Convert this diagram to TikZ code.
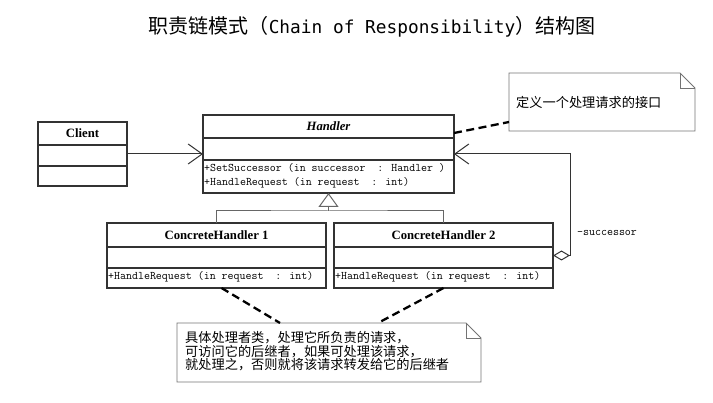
\documentclass[tikz,border=0pt]{standalone}
\usepackage{fontspec}
\setmainfont{Liberation Serif}
\newfontfamily\cjk{Noto Sans CJK SC}
\newfontfamily\titlemono{DejaVu Sans Mono}
\usetikzlibrary{arrows.meta}
\usetikzlibrary{calc}

\tikzset{
  classbox/.style={draw=black!80, line width=1.1pt, inner sep=0pt, outer sep=0pt},
  classline/.style={draw=black!80, line width=1.1pt},
  classname/.style={inner sep=0pt, font=\fontsize{12.7}{14}\selectfont\bfseries},
  method/.style={anchor=west, inner sep=1pt, font=\ttfamily\fontsize{11.6}{13}\selectfont},
  notebox/.style={inner sep=0pt, outer sep=0pt},
  noteline/.style={draw=black!55, line width=0.9pt},
  notetext/.style={anchor=west, inner sep=0pt, align=left, font=\cjk\fontsize{13.2}{12.2}\selectfont},
  notedash/.style={line width=2.3pt, dash pattern=on 8pt off 4.5pt},
  assoc/.style={draw=black!80, line width=1pt},
  genline/.style={draw=black!60, line width=1pt},
}

\begin{document}
\begin{tikzpicture}[x=1pt, y=-1pt]
        \useasboundingbox (0,0) rectangle (713,403);

        \node (title) at (372,27) {\cjk\fontsize{20}{22}\selectfont 职责链模式（{\titlemono\fontsize{17.8}{22}\selectfont Chain of Responsibility}）结构图};

        \node [classbox, minimum width=89pt, minimum height=64pt] (client) at (82.5,154) {};
        \node [classname] (clientname) at (82.5,133.5) {Client};
        \draw [classline] (client.west |- 0,145) -- (client.east |- 0,145);
        \draw [classline] (client.west |- 0,166) -- (client.east |- 0,166);

        \node [classbox, minimum width=251pt, minimum height=78pt] (handler) at (328.5,154) {};
        \node [classname] (handlername) at (328.5,126.5) {\itshape Handler};
        \draw [classline] (handler.west |- 0,138) -- (handler.east |- 0,138);
        \draw [classline] (handler.west |- 0,160) -- (handler.east |- 0,160);
        \node [method] (setsucc) at (203,168) {+SetSuccessor (in successor\ \ : Handler )};
        \node [method] (handlereq) at (203,183) {+HandleRequest (in request\ \ : int)};

        \node [classbox, minimum width=219pt, minimum height=65pt] (ch1) at (216.5,255.5) {};
        \node [classname] (ch1name) at (216.5,235) {ConcreteHandler 1};
        \draw [classline] (ch1.west |- 0,247) -- (ch1.east |- 0,247);
        \draw [classline] (ch1.west |- 0,268) -- (ch1.east |- 0,268);
        \node [method] (ch1req) at (107,277) {+HandleRequest (in request\ \ : int)};

        \node [classbox, minimum width=219pt, minimum height=65pt] (ch2) at (443.5,255.5) {};
        \node [classname] (ch2name) at (443.5,235) {ConcreteHandler 2};
        \draw [classline] (ch2.west |- 0,247) -- (ch2.east |- 0,247);
        \draw [classline] (ch2.west |- 0,268) -- (ch2.east |- 0,268);
        \node [method] (ch2req) at (334,277) {+HandleRequest (in request\ \ : int)};

        \node [notebox, minimum width=186pt, minimum height=58pt] (note1) at (602,102) {};
        \draw [noteline] (note1.north west) -- ([xshift=-15pt]note1.north east) -- ([yshift=-15pt]note1.north east) -- (note1.south east) -- (note1.south west) -- cycle;
        \draw [noteline] ([xshift=-15pt]note1.north east) |- ([yshift=-15pt]note1.north east);
        \node [notetext] (note1text) at (516,102.7) {定义一个处理请求的接口};

        \node [notebox, minimum width=304pt, minimum height=59pt] (note2) at (329,352.5) {};
        \draw [noteline] (note2.north west) -- ([xshift=-15pt]note2.north east) -- ([yshift=-15pt]note2.north east) -- (note2.south east) -- (note2.south west) -- cycle;
        \draw [noteline] ([xshift=-15pt]note2.north east) |- ([yshift=-15pt]note2.north east);
        \node [notetext] (note2text) at (185,351.3) {具体处理者类，处理它所负责的请求，\\可访问它的后继者，如果可处理该请求，\\就处理之，否则就将该请求转发给它的后继者};

        \draw [assoc, -{Straight Barb[length=14pt, width=20pt]}] (client.east) -- (handler.west);

        \coordinate (fork) at (handler.south |- 0,211);
        \draw [genline] (ch1.north) |- (fork) -| (ch2.north);
        \draw [genline, -{Triangle[open, length=14pt, width=20pt]}] (fork) -- (handler.south);

        \draw [assoc, {Diamond[open, length=17pt, width=10pt]}-{Straight Barb[length=14pt, width=20pt]}] (ch2.east) -- ++(17,0) |- (handler.east);
        \node [method] (succ) at (576,232.7) {-successor};

        \draw [notedash] ([yshift=-18pt]handler.north east) -- ([yshift=9pt]note1.south west);
        \draw [notedash] ([xshift=5pt]ch1.south) -- ([xshift=103pt]note2.north west);
        \draw [notedash] (ch2.south) -- ([xshift=201pt]note2.north west);
    \end{tikzpicture}
\end{document}
